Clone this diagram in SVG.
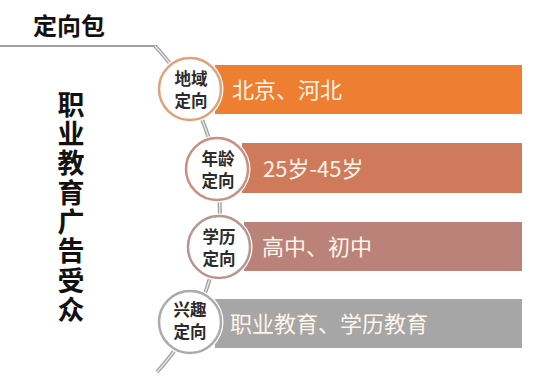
<svg xmlns="http://www.w3.org/2000/svg" width="548" height="385" viewBox="0 0 548 385">
<style>
.title{font-family:"Noto Sans CJK SC","Noto Sans",sans-serif;font-weight:bold;fill:#111;}
.vt{font-family:"Noto Sans CJK SC",sans-serif;font-weight:bold;font-size:27px;fill:#111;writing-mode:vertical-rl;letter-spacing:2.3px;}
.ct{font-family:"Noto Sans CJK SC",sans-serif;font-weight:bold;font-size:16.5px;fill:#2b2b2b;text-anchor:middle;}
.bt{font-family:"Noto Sans CJK SC",sans-serif;font-size:22px;fill:#fff4e8;}
.halo{fill:#fff;}
.ring{fill:#fff;stroke-width:2.5;}
</style>
<rect width="548" height="385" fill="#fff"/>
<text class="title" x="33" y="35" font-size="24">定向包</text>
<g id="side-label">
<text class="vt" x="71" y="91">职业教育广告受众</text>
</g>
<g id="connectors">
<line x1="0" y1="46" x2="156" y2="46" stroke="#a0a0a0" stroke-width="2"/>
<path d="M155,46 A240,240 0 0,1 157,372" fill="none" stroke="#a3a3a3" stroke-width="4"/>
<path d="M155,46 A240,240 0 0,1 157,372" fill="none" stroke="#e6e6e6" stroke-width="1.4"/>
</g>
<g id="node-region">
<rect x="215" y="65" width="307" height="49" fill="#ee7e32"/>
<circle class="halo" cx="190" cy="89" r="33.5"/>
<circle class="ring" cx="190" cy="89" r="31" stroke="#dfa27a"/>
<text class="ct" x="191" y="84.5">地域</text>
<text class="ct" x="191" y="106.5">定向</text>
<text class="bt" x="232" y="97.5">北京、河北</text>
</g>
<g id="node-age">
<rect x="242" y="143" width="280" height="50" fill="#cf7a5b"/>
<circle class="halo" cx="217" cy="169" r="33.5"/>
<circle class="ring" cx="217" cy="169" r="31" stroke="#c98f7f"/>
<text class="ct" x="218" y="164.5">年龄</text>
<text class="ct" x="218" y="186.5">定向</text>
<text class="bt" x="263" y="176.5">25岁-45岁</text>
</g>
<g id="node-edu">
<rect x="244" y="222" width="278" height="49" fill="#bb827a"/>
<circle class="halo" cx="219" cy="247" r="33.5"/>
<circle class="ring" cx="219" cy="247" r="31" stroke="#b9958f"/>
<text class="ct" x="219" y="242.5">学历</text>
<text class="ct" x="219" y="264.5">定向</text>
<text class="bt" x="262" y="254.5">高中、初中</text>
</g>
<g id="node-interest">
<rect x="215" y="299" width="307" height="49" fill="#a6a6a6"/>
<circle class="halo" cx="190" cy="322" r="33.5"/>
<circle class="ring" cx="190" cy="322" r="31" stroke="#ababab"/>
<text class="ct" x="190" y="316">兴趣</text>
<text class="ct" x="190" y="338">定向</text>
<text class="bt" x="230" y="331.5">职业教育、学历教育</text>
</g>
</svg>
